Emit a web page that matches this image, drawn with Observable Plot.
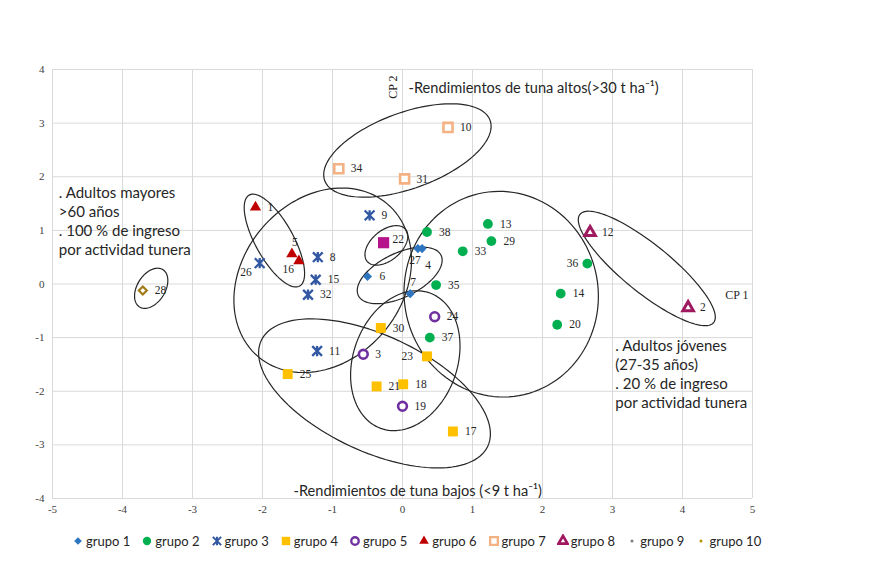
<!DOCTYPE html>
<html><head><meta charset="utf-8">
<script src="https://cdn.jsdelivr.net/npm/d3@7"></script>
<script src="https://cdn.jsdelivr.net/npm/@observablehq/plot@0.6"></script>
<style>
body{margin:0;background:#fff;width:874px;height:562px;overflow:hidden;position:relative;}
#chart{position:absolute;left:0;top:0;}
#legend{position:absolute;top:533px;left:72px;display:flex;align-items:center;font-family:Lato,"Open Sans",sans-serif;font-size:13px;color:#262626;white-space:nowrap;}
#legend .item{display:flex;align-items:center;margin-right:11px;}
#legend svg{margin-right:2px;}
</style>
</head><body>
<div id="chart"></div>
<div id="legend"></div>
<script>
// ---- data ----
const ids  = [1,2,3,4,5,6,7,8,9,10,11,12,13,14,15,16,17,18,19,20,21,22,23,24,25,26,27,28,29,30,31,32,33,34,35,36,37,38];
const cp1  = [-2.10,4.08,-0.56,0.28,-1.58,-0.50,0.11,-1.21,-0.47,0.65,-1.22,2.68,1.22,2.26,-1.24,-1.48,0.72,0.01,0.00,2.21,-0.37,-0.27,0.35,0.46,-1.64,-2.04,0.22,-3.71,1.27,-0.31,0.03,-1.35,0.86,-0.91,0.48,2.64,0.39,0.35];
const cp2  = [1.43,-0.44,-1.31,0.66,0.56,0.14,-0.18,0.50,1.28,2.92,-1.25,0.96,1.12,-0.18,0.08,0.43,-2.75,-1.87,-2.28,-0.76,-1.91,0.77,-1.35,-0.61,-1.68,0.39,0.66,-0.12,0.80,-0.82,1.96,-0.20,0.61,2.15,-0.02,0.38,-1.00,0.97];
const grupo = [6,8,5,1,6,1,1,3,3,7,3,8,2,2,3,6,4,4,5,2,4,9,4,5,4,3,1,10,2,4,7,3,2,7,2,2,2,2];
const groupNames = ["grupo 1","grupo 2","grupo 3","grupo 4","grupo 5","grupo 6","grupo 7","grupo 8","grupo 9","grupo 10"];
const xTicks = [-5,-4,-3,-2,-1,0,1,2,3,4,5];
const yTicks = [-4,-3,-2,-1,0,1,2,3,4];

// ellipses drawn around the groups (centre in CP units)
const ellipseCx = [0.07,-1.83,3.49,-3.59,-0.23,-0.04,1.41,-1.14,-0.40,0.04];
const ellipseCy = [2.49,0.81,0.29,-0.08,0.72,0.16,-0.19,0.07,-2.04,-1.43];

// ---- styles / geometry ----
const ellipseA = [88,52,86,22,25,46,103,100,125,72];
const ellipseB = [38,19,24,14,15,22,97,80,58,52];
const ellipseAngle = [-20,61,39,-58,-40,-26,80,-50,25,-70];

const xStar = {draw(ctx, size){const h=Math.sqrt(size)*0.55;ctx.moveTo(-h,-h);ctx.lineTo(h,h);ctx.moveTo(-h,h);ctx.lineTo(h,-h);ctx.moveTo(0,-h*1.05);ctx.lineTo(0,h*1.05);}};
const styles = {
  1:{symbol:"diamond2",fill:"#2E75C0",stroke:"none",r:4.1},
  2:{symbol:"circle",fill:"#00B050",stroke:"none",r:4.9},
  3:{symbol:xStar,fill:"none",stroke:"#3358A3",strokeWidth:2.3,r:5},
  4:{symbol:"square",fill:"#FFC000",stroke:"none",r:5.6},
  5:{symbol:"circle",fill:"white",stroke:"#7030A0",strokeWidth:2.6,r:4.4},
  6:{symbol:"triangle",fill:"#C00000",stroke:"none",r:4.2},
  7:{symbol:"square",fill:"white",stroke:"#F4B183",strokeWidth:2.6,r:5.1},
  8:{symbol:"triangle",fill:"white",stroke:"#A0195F",strokeWidth:3,r:3.9},
  9:{symbol:"square",fill:"#B5128C",stroke:"none",r:6.3},
  10:{symbol:"diamond2",fill:"white",stroke:"#A07A16",strokeWidth:2.2,r:3.6}
};
const labelPlacement = {26:[-8,9,"end"],16:[-5,8,"end"],5:[3,-12,"middle"],27:[-3,12,"middle"],4:[6,17,"middle"],7:[3,-11,"middle"],23:[-14,0,"end"],36:[-9,0,"end"],22:[9,-3,"start"]};

const W=874,H=525,mL=52,mR=122,mT=69,mB=27;
const kx=(W-mL-mR)/10, ky=(H-mT-mB)/8;

const points = ids.map((id,i)=>({id, x:cp1[i], y:cp2[i], g:grupo[i]}));

const ellipsePts = [];
ellipseCx.forEach((cx,i)=>{
  const th=ellipseAngle[i]*Math.PI/180, a=ellipseA[i], b=ellipseB[i];
  for(let k=0;k<=120;k++){
    const t=k/120*2*Math.PI;
    const dx=a*Math.cos(t)*Math.cos(th)-b*Math.sin(t)*Math.sin(th);
    const dy=a*Math.cos(t)*Math.sin(th)+b*Math.sin(t)*Math.cos(th);
    ellipsePts.push({e:i, x:cx+dx/kx, y:ellipseCy[i]-dy/ky});
  }
});

const fmt = d => String(d);
const marks = [
  Plot.gridX(xTicks,{stroke:"#d9d9d9",strokeOpacity:1,strokeWidth:1}),
  Plot.gridY(yTicks,{stroke:"#d9d9d9",strokeOpacity:1,strokeWidth:1}),
  Plot.axisX(xTicks,{tickSize:0,tickPadding:7,tickFormat:fmt,label:null,fontFamily:"Liberation Serif",fontSize:11,fill:"#404040"}),
  Plot.axisY(yTicks,{tickSize:0,tickPadding:8,tickFormat:fmt,label:null,fontFamily:"Liberation Serif",fontSize:11,fill:"#404040"}),
  Plot.line(ellipsePts,{x:"x",y:"y",z:"e",stroke:"#262626",strokeWidth:1.2})
];
for(const g of Object.keys(styles)){
  const s=styles[g];
  marks.push(Plot.dot(points.filter(p=>p.g==+g),{x:"x",y:"y",...s}));
}
marks.push(Plot.text(points.filter(p=>!(p.id in labelPlacement)),{x:"x",y:"y",text:"id",dx:12,textAnchor:"start",fontFamily:"Liberation Serif",fontSize:11.5,fill:"#262626"}));
for(const [id,[dx,dy,anchor]] of Object.entries(labelPlacement)){
  marks.push(Plot.text(points.filter(p=>p.id==+id),{x:"x",y:"y",text:"id",dx,dy,textAnchor:anchor,fontFamily:"Liberation Serif",fontSize:11.5,fill:"#262626"}));
}
// annotations
const sans = "Lato, 'Open Sans', sans-serif";
marks.push(
  Plot.text(["-Rendimientos de tuna altos(>30 t ha⁻¹)"],{x:0.086,y:3.65,textAnchor:"start",fontFamily:sans,fontSize:14.6,fill:"#262626"}),
  Plot.text(["-Rendimientos de tuna bajos (<9 t ha⁻¹)"],{x:-1.557,y:-3.87,textAnchor:"start",fontFamily:sans,fontSize:14.6,fill:"#262626"}),
  Plot.text([". Adultos mayores\n>60 años\n. 100 % de ingreso\npor actividad tunera"],{x:-4.91,y:1.86,textAnchor:"start",lineAnchor:"top",lineHeight:1.27,fontFamily:sans,fontSize:15,fill:"#262626"}),
  Plot.text([". Adultos jóvenes\n(27-35 años)\n. 20 % de ingreso\npor actividad tunera"],{x:3.04,y:-1.0,textAnchor:"start",lineAnchor:"top",lineHeight:1.27,fontFamily:sans,fontSize:15,fill:"#262626"}),
  Plot.text(["CP 2"],{x:-0.13,y:3.67,rotate:-90,fontFamily:"Liberation Serif",fontSize:12,fill:"#262626"}),
  Plot.text(["CP 1"],{x:4.61,y:-0.21,textAnchor:"start",fontFamily:"Liberation Serif",fontSize:12,fill:"#262626"})
);

const chart = Plot.plot({
  width:W,height:H,marginLeft:mL,marginRight:mR,marginTop:mT,marginBottom:mB,
  x:{domain:[-5,5]}, y:{domain:[-4,4]},
  style:{background:"white"},
  marks
});
document.getElementById("chart").appendChild(chart);

// legend
const legend = d3.select("#legend");
const legendStyles = {...styles, 9:{symbol:"circle",fill:"#7F7F7F",stroke:"none",r:1.8}, 10:{symbol:"circle",fill:"#BF9000",stroke:"none",r:1.8}};
const symMap = {circle:d3.symbolCircle,square:d3.symbolSquare,triangle:d3.symbolTriangle,diamond2:d3.symbolDiamond2};
groupNames.forEach((name,i)=>{
  const s = legendStyles[i+1];
  const sym = typeof s.symbol==="string"?symMap[s.symbol]:s.symbol;
  const scale = 0.85;
  const r = s.r*scale;
  const item = legend.append("div").attr("class","item");
  const svg = item.append("svg").attr("width",12).attr("height",14);
  svg.append("path").attr("transform","translate(6,7)")
    .attr("d",d3.symbol(sym, Math.PI*r*r)())
    .attr("fill",s.fill).attr("stroke",s.stroke).attr("stroke-width",(s.strokeWidth||0)*0.9);
  item.append("span").text(name);
});
</script>
</body></html>
